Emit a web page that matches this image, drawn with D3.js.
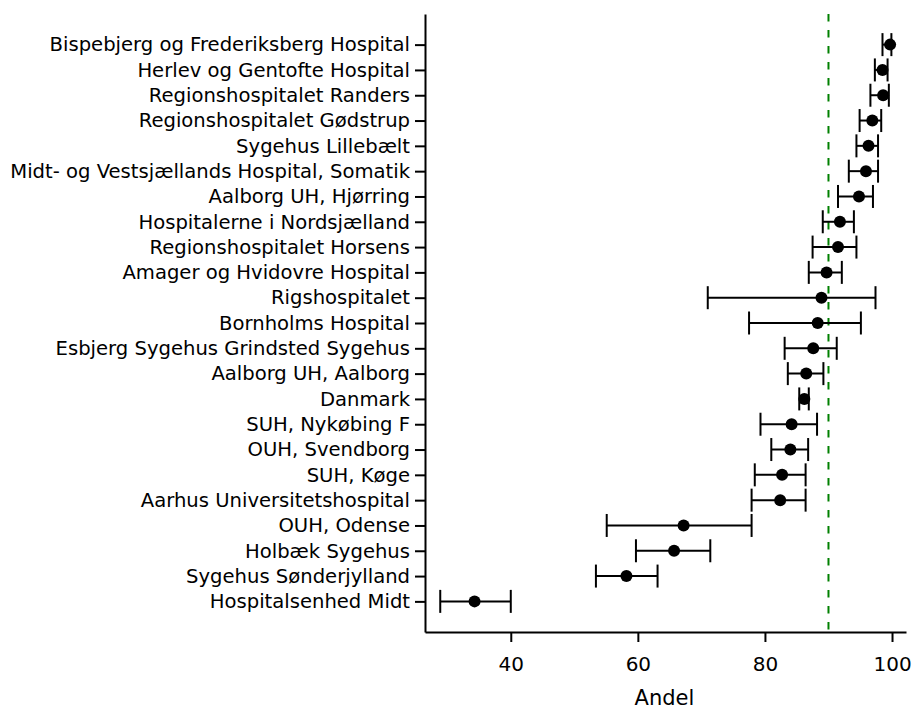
<!DOCTYPE html>
<html>
<head>
<meta charset="utf-8">
<script src="https://cdn.jsdelivr.net/npm/d3@7"></script>
<style>
  html, body { margin: 0; padding: 0; background: #fff; }
  svg { display: block; }
</style>
</head>
<body>
<svg id="chart" width="913" height="710"></svg>
<script>
const categories = [
  "Bispebjerg og Frederiksberg Hospital",
  "Herlev og Gentofte Hospital",
  "Regionshospitalet Randers",
  "Regionshospitalet Gødstrup",
  "Sygehus Lillebælt",
  "Midt- og Vestsjællands Hospital, Somatik",
  "Aalborg UH, Hjørring",
  "Hospitalerne i Nordsjælland",
  "Regionshospitalet Horsens",
  "Amager og Hvidovre Hospital",
  "Rigshospitalet",
  "Bornholms Hospital",
  "Esbjerg Sygehus Grindsted Sygehus",
  "Aalborg UH, Aalborg",
  "Danmark",
  "SUH, Nykøbing F",
  "OUH, Svendborg",
  "SUH, Køge",
  "Aarhus Universitetshospital",
  "OUH, Odense",
  "Holbæk Sygehus",
  "Sygehus Sønderjylland",
  "Hospitalsenhed Midt"
];
const estimate = [99.7, 98.5, 98.6, 96.9, 96.3, 95.9, 94.8, 91.8, 91.5, 89.7, 88.9, 88.3, 87.6, 86.5, 86.2, 84.2, 84.0, 82.7, 82.4, 67.2, 65.7, 58.2, 34.3];
const lower    = [98.5, 97.3, 96.6, 94.9, 94.4, 93.2, 91.5, 89.1, 87.5, 86.9, 71.0, 77.5, 83.1, 83.6, 85.4, 79.3, 81.0, 78.4, 77.9, 55.1, 59.7, 53.4, 28.9];
const upper    = [99.9, 99.3, 99.5, 98.3, 97.8, 97.8, 97.0, 94.0, 94.4, 92.1, 97.4, 95.1, 91.3, 89.2, 86.9, 88.2, 86.8, 86.4, 86.4, 77.9, 71.4, 63.1, 40.0];
const xTicks = [40, 60, 80, 100];
const target = 90;
const xLabel = "Andel";

(function () {
const rows = categories.map((c, i) => ({name: c, est: estimate[i], lo: lower[i], hi: upper[i], idx: i}));

const svg = d3.select("#chart");
const mLeft = 425, mRight = 906, mTop = 14, mBottom = 632;
const font = "'DejaVu Sans', sans-serif";

const x = d3.scaleLinear().domain([26.5, 102.2]).range([mLeft, mRight]);
const y = d3.scaleLinear().domain([-1.21, categories.length - 1 + 1.21]).range([mTop, mBottom]);

// target line
svg.append("line")
  .attr("x1", x(target)).attr("x2", x(target))
  .attr("y1", mTop).attr("y2", mBottom)
  .attr("stroke", "#008000").attr("stroke-width", 2)
  .attr("stroke-dasharray", "7.5,8.5");

// x axis
const xAxis = d3.axisBottom(x).tickValues(xTicks).tickSize(10).tickPadding(15).tickSizeOuter(0);
const gx = svg.append("g").attr("transform", `translate(0,${mBottom})`).call(xAxis);
gx.select(".domain").attr("stroke", "#000").attr("stroke-width", 2);
gx.selectAll(".tick line").attr("stroke", "#000").attr("stroke-width", 2);
gx.selectAll(".tick text").attr("font-family", font).attr("font-size", 20).attr("fill", "#000");

// y axis
const yAxis = d3.axisLeft(y).tickValues(rows.map(r => r.idx))
  .tickFormat(i => categories[i]).tickSize(10).tickPadding(5).tickSizeOuter(0);
const gy = svg.append("g").attr("transform", `translate(${mLeft},0)`).call(yAxis);
gy.select(".domain").attr("stroke", "#000").attr("stroke-width", 2);
gy.selectAll(".tick line").attr("stroke", "#000").attr("stroke-width", 2);
gy.selectAll(".tick text").attr("font-family", font).attr("font-size", 19.6).attr("fill", "#000");

// x label
svg.append("text")
  .attr("x", (mLeft + mRight) / 2 - 1).attr("y", 705)
  .attr("text-anchor", "middle")
  .attr("font-family", font).attr("font-size", 21)
  .text(xLabel);

// error bars
const g = svg.append("g");
const cap = 11.5;
rows.forEach(r => {
  const yy = y(r.idx);
  g.append("line").attr("x1", x(r.lo)).attr("x2", x(r.hi)).attr("y1", yy).attr("y2", yy)
    .attr("stroke", "#000").attr("stroke-width", 2);
  [r.lo, r.hi].forEach(v => {
    g.append("line").attr("x1", x(v)).attr("x2", x(v)).attr("y1", yy - cap).attr("y2", yy + cap)
      .attr("stroke", "#000").attr("stroke-width", 2);
  });
  g.append("circle").attr("cx", x(r.est)).attr("cy", yy).attr("r", 6).attr("fill", "#000");
});
})();
</script>
</body>
</html>
